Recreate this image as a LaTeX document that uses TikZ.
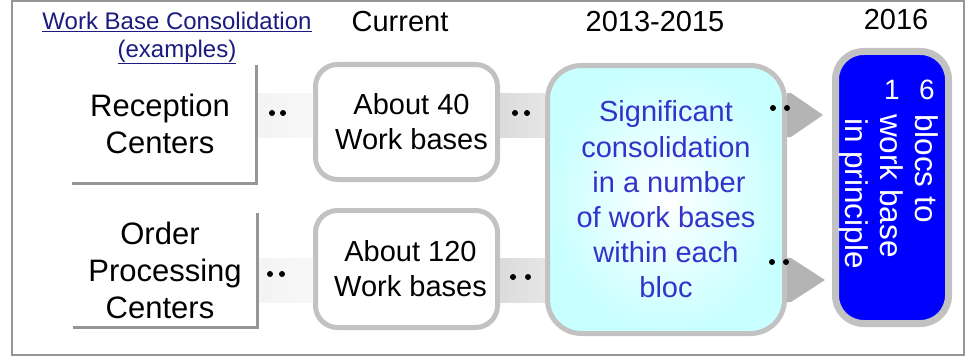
\documentclass[tikz,border=0pt]{standalone}
\usepackage{fontspec}
\setmainfont{Liberation Sans}
\usetikzlibrary{calc}
\definecolor{framegray}{RGB}{150,150,150}
\definecolor{boxgray}{RGB}{194,194,194}
\definecolor{lblgray}{RGB}{150,150,150}
\definecolor{bigtext}{RGB}{51,51,204}
\definecolor{titleblue}{RGB}{26,26,128}
\definecolor{cyanfill}{RGB}{200,255,255}
\definecolor{arrowgray}{RGB}{180,180,180}
\definecolor{blockblue}{RGB}{0,0,255}
\begin{document}
\begin{tikzpicture}[x=1pt,y=-1pt,
  hdr/.style={font=\fontsize{29}{35}\selectfont, inner sep=0pt},
  lbl/.style={font=\fontsize{31}{37}\selectfont, align=center, inner sep=0pt},
  lblline/.style={draw=lblgray, line width=3pt},
  curbox/.style={draw=boxgray, line width=5pt, fill=white, rounded corners=22pt,
    minimum width=182pt, font=\fontsize{29}{35}\selectfont, align=center, inner sep=0pt},
  bigbox/.style={draw=boxgray, line width=5pt, rounded corners=34pt, inner color=white,
    outer color=cyanfill, minimum width=237pt, minimum height=268pt, text=bigtext,
    font=\fontsize{29}{35.2}\selectfont, align=center, inner sep=0pt},
  blkbox/.style={draw=boxgray, line width=7pt, fill=blockblue, rounded corners=28pt,
    minimum width=113pt, minimum height=272pt, inner sep=0pt},
  vtext/.style={text=white, font=\fontsize{31.5}{31.5}\selectfont, inner sep=0pt,
    rotate=-90, anchor=base west},
  digit/.style={text=white, font=\fontsize{28}{28}\selectfont, inner sep=0pt},
  bandA/.style={left color=gray!9, right color=gray!6},
  bandB/.style={left color=gray!28, right color=gray!20},
  dot/.style={fill=black, circle, inner sep=0pt, minimum size=6pt},
]
\useasboundingbox (0,0) rectangle (979,361);
\draw[draw=framegray, line width=2pt] (12,1) rectangle (964,355);

% headers
\node[font=\fontsize{24}{28}\selectfont, text=titleblue, align=center, inner sep=0pt] (ttl) at (177,38)
  {\underline{Work Base Consolidation}\\\underline{(examples)}};
\node[hdr] (hcur) at (400,22) {Current};
\node[hdr] (h1315) at (655,22) {2013-2015};
\node[hdr] (h16) at (896,20) {2016};

% row coordinates
\coordinate (r1) at (0,115);
\coordinate (r2) at (0,280);

% left labels
\node[lbl, minimum width=184pt, minimum height=118pt] (rc) at (164.5,124)
  {Reception\hspace*{9pt}\\Centers\hspace*{9pt}};
\node[lbl, minimum width=184pt, minimum height=114pt] (opc) at (165,270)
  {Order\hspace*{10pt}\\Processing\hspace*{10pt}\\Centers\hspace*{10pt}};

% current boxes
\node[curbox, minimum height=115pt] (c40) at (406.5,122) {\hspace*{10pt}About 40\\\hspace*{10pt}Work bases};
\node[curbox, minimum height=117pt] (c120) at (406.5,269) {\hspace*{8pt}About 120\\\hspace*{8pt}Work bases};

% big box
\node[bigbox] (big) at (666,199.5) {Significant\\consolidation\\\hspace*{6pt}in a number\\of work bases\\within each\\bloc};

% blue box
\node[blkbox] (blk) at (892,187.5) {};
\node[digit] (d6) at (927,90) {6};
\node[digit] (d1) at (892,90) {1};
\node[vtext] (t1) at (915,114) {blocs to};
\node[vtext] (t2) at (880,114) {work base};
\node[vtext] (t3) at (845,118) {in principle};

% bands
\fill[bandA] ($(rc.east |- r1)+(0,-22)$) rectangle ($(c40.west |- r1)+(0,22)$);
\fill[bandA] ($(opc.east |- r2)+(0,-22)$) rectangle ($(c120.west |- r2)+(0,22)$);
\fill[bandB] ($(c40.east |- r1)+(0,-22)$) rectangle ($(big.west |- r1)+(0,22)$);
\fill[bandB] ($(c120.east |- r2)+(0,-22)$) rectangle ($(big.west |- r2)+(0,22)$);

% arrows to blue box
\fill[arrowgray] ($(big.east |- r1)+(0,-22)$) -- ($(big.east |- r1)+(4,-22)$)
  -- ($(big.east |- r1)+(36,0)$) -- ($(big.east |- r1)+(4,22)$) -- ($(big.east |- r1)+(0,22)$) -- cycle;
\fill[arrowgray] ($(big.east |- r2)+(0,-22)$) -- ($(big.east |- r2)+(4,-22)$)
  -- ($(big.east |- r2)+(38,0)$) -- ($(big.east |- r2)+(4,22)$) -- ($(big.east |- r2)+(0,22)$) -- cycle;

% label lines
\draw[lblline] (rc.north east) -- (rc.south east) -- (rc.south west);
\draw[lblline] (opc.north east) -- (opc.south east) -- (opc.south west);

% dots
\node[dot] (p1) at (272,113) {};
\node[dot] (p2) at (283,113) {};
\node[dot] (p3) at (515,113) {};
\node[dot] (p4) at (527,113) {};
\node[dot] (p5) at (270,274) {};
\node[dot] (p6) at (282,274) {};
\node[dot] (p7) at (513,277) {};
\node[dot] (p8) at (528,277) {};
\node[dot] (p9) at (773,108) {};
\node[dot] (p10) at (787,108) {};
\node[dot] (p11) at (772,262) {};
\node[dot] (p12) at (786,262) {};
\end{tikzpicture}
\end{document}
